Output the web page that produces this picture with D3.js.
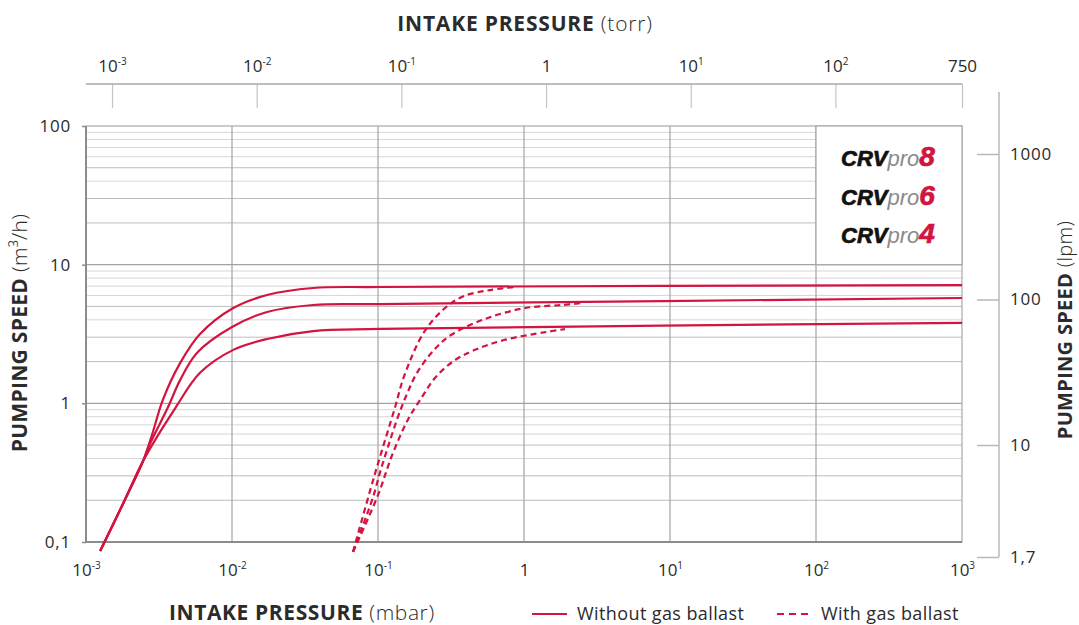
<!DOCTYPE html>
<html><head><meta charset="utf-8">
<script src="https://cdn.jsdelivr.net/npm/d3@7"></script>
<style>
body{margin:0;background:#fff}
text{font-family:"Open Sans","Noto Sans",sans-serif;fill:#2b2b2b}
</style></head><body>
<svg id="c" width="1079" height="625"></svg>
<script>
// ---------- data ----------
const mbarTicks = [1e-3,1e-2,1e-1,1,10,100,1000];
const mbarTickLabels = [["10","-3"],["10","-2"],["10","-1"],["1",""],["10","1"],["10","2"],["10","3"]];
const torrTicks = [1e-3,1e-2,1e-1,1,10,100,750];
const torrTickLabels = [["10","-3"],["10","-2"],["10","-1"],["1",""],["10","1"],["10","2"],["750",""]];
const speedTicks = [0.1,1,10,100];
const speedTickLabels = ["0,1","1","10","100"];
const lpmTicks = [1.7,10,100,1000];
const lpmTickLabels = ["1,7","10","100","1000"];
const modelNumbers = ["8","6","4"];

// [intake pressure mbar, pumping speed m3/h]
const crv8NoBallast = [[0.00125,0.086],[0.00179,0.188],[0.00246,0.384],[0.00283,0.591],[0.00336,1.06],[0.00441,1.95],[0.00604,3.16],[0.0102,4.87],[0.0174,6.04],[0.0359,6.79],[0.103,6.90],[1000,7.13]];
const crv6NoBallast = [[0.00125,0.086],[0.00179,0.188],[0.00246,0.384],[0.00274,0.509],[0.00365,0.94],[0.00441,1.47],[0.00575,2.31],[0.01,3.55],[0.0174,4.56],[0.0359,5.12],[0.103,5.20],[1000,5.75]];
const crv4NoBallast = [[0.00125,0.086],[0.00179,0.188],[0.00246,0.384],[0.00413,0.94],[0.00604,1.66],[0.0102,2.43],[0.0174,2.91],[0.0359,3.32],[0.103,3.44],[1000,3.80]];
const crv8Ballast = [[0.0675,0.085],[0.0939,0.294],[0.131,0.94],[0.151,1.57],[0.207,3.27],[0.288,4.87],[0.388,5.94],[0.585,6.56],[0.867,6.90]];
const crv6Ballast = [[0.0675,0.085],[0.0925,0.211],[0.103,0.315],[0.117,0.484],[0.137,0.80],[0.158,1.17],[0.185,1.66],[0.242,2.43],[0.316,3.11],[0.541,4.06],[1.02,4.87],[1.82,5.12],[2.49,5.29]];
const crv4Ballast = [[0.0675,0.085],[0.1,0.218],[0.125,0.424],[0.160,0.759],[0.200,1.11],[0.249,1.55],[0.337,2.05],[0.461,2.43],[0.729,2.86],[1.42,3.27],[1.91,3.43]];

// ---------- layout ----------
const RED = "#d2143f";
const svg = d3.select("#c");
const x = d3.scaleLog().domain([1e-3,1e3]).range([86,962]);
const y = d3.scaleLog().domain([0.1,100]).range([542,126]);
const xT = d3.scaleLog().domain([1e-3,750]).range([112,962]);
const yR = d3.scaleLog().domain([1.7,1000]).range([557,154]);

// grid
const g = svg.append("g");
const minorVals = [];
[0.1,1,10].forEach(d=>{for(let k=2;k<=9;k++) minorVals.push(d*k);});
g.selectAll("line.minor").data(minorVals).enter().append("line")
 .attr("x1",86).attr("x2",962).attr("y1",d=>y(d)).attr("y2",d=>y(d))
 .attr("stroke",d=>{const k=Math.round(d/Math.pow(10,Math.floor(Math.log10(d)+1e-9)));return (k===2||k===3||k===5)?"#bdbdbd":"#d6d6d6";})
 .attr("stroke-width",1);
g.selectAll("line.vmaj").data(mbarTicks.slice(1,-1)).enter().append("line")
 .attr("x1",d=>x(d)).attr("x2",d=>x(d)).attr("y1",126).attr("y2",542)
 .attr("stroke","#a3a3a3").attr("stroke-width",1.2);
g.selectAll("line.hmaj").data([1,10]).enter().append("line")
 .attr("x1",86).attr("x2",962).attr("y1",d=>y(d)).attr("y2",d=>y(d))
 .attr("stroke","#a3a3a3").attr("stroke-width",1.2);

// frame
svg.append("rect").attr("x",86).attr("y",126).attr("width",876).attr("height",416)
 .attr("fill","none").attr("stroke","#a8a8a8").attr("stroke-width",1.2);
svg.append("line").attr("x1",86).attr("x2",86).attr("y1",126).attr("y2",542).attr("stroke","#8c8c8c").attr("stroke-width",2);
svg.append("line").attr("x1",86).attr("x2",962).attr("y1",542).attr("y2",542).attr("stroke","#8c8c8c").attr("stroke-width",2);

// model box
svg.append("rect").attr("x",x(100)).attr("y",y(100)).attr("width",x(1000)-x(100)).attr("height",y(10)-y(100))
 .attr("fill","#fff").attr("stroke","#a8a8a8").attr("stroke-width",1.2);
const logo = svg.append("g");
modelNumbers.forEach((m,i)=>{
  const t = logo.append("text").attr("x",841).attr("y",166+i*38.5)
    .style("font-family","'Liberation Sans',Arial,sans-serif").style("font-style","italic");
  t.append("tspan").text("CRV").style("font-weight","bold").style("font-size","22px").style("fill","#111").style("stroke","#111").style("stroke-width","0.7px");
  t.append("tspan").text("pro").style("font-size","22px").style("fill","#8a8a8a");
  t.append("tspan").text(m).style("font-weight","bold").style("font-size","28px").style("fill",RED).style("stroke",RED).style("stroke-width","0.7px");
});

// left axis
const yAxis = d3.axisLeft(y).tickValues(speedTicks).tickSize(4).tickFormat((d,i)=>speedTickLabels[i]);
const ya = svg.append("g").attr("transform","translate(86,0)").call(yAxis);
ya.select(".domain").remove();
ya.selectAll("line").attr("stroke","#8c8c8c").attr("stroke-width",1.5);
ya.selectAll("text").attr("x",-15).style("font-size","17px").style("letter-spacing","0.8px").style("font-family","'Open Sans'").attr("fill","#2b2b2b");

// bottom axis (labels only)
const xAxis = d3.axisBottom(x).tickValues(mbarTicks).tickSize(0).tickFormat("");
const xa = svg.append("g").attr("transform","translate(0,542)").call(xAxis);
xa.select(".domain").remove();
xa.selectAll("text").each(function(d,i){
  const t=d3.select(this).attr("y",34).attr("dy",0).style("font-size","17px").style("font-family","'Open Sans'");
  t.append("tspan").text(mbarTickLabels[i][0]);
  if(mbarTickLabels[i][1]) t.append("tspan").text(mbarTickLabels[i][1]).attr("dy",-7).style("font-size","10px");
});

// top torr axis
const xtAxis = d3.axisTop(xT).tickValues(torrTicks).tickSize(-24).tickFormat("");
const xta = svg.append("g").attr("transform","translate(0,84)").call(xtAxis);
xta.select(".domain").remove();
svg.append("line").attr("x1",86).attr("x2",962).attr("y1",84).attr("y2",84).attr("stroke","#a8a8a8").attr("stroke-width",1.5);
xta.selectAll("line").attr("stroke","#c4c4c4").attr("stroke-width",1.2);
xta.selectAll("text").each(function(d,i){
  const t=d3.select(this).attr("y",-12).attr("dy",0).style("font-size","17px").style("font-family","'Open Sans'");
  t.append("tspan").text(torrTickLabels[i][0]);
  if(torrTickLabels[i][1]) t.append("tspan").text(torrTickLabels[i][1]).attr("dy",-7).style("font-size","10px");
});

// right lpm axis
const yrAxis = d3.axisRight(yR).tickValues(lpmTicks).tickSize(-22).tickFormat((d,i)=>lpmTickLabels[i]);
const yra = svg.append("g").attr("transform","translate(999,0)").call(yrAxis);
yra.select(".domain").remove();
svg.append("line").attr("x1",999).attr("x2",999).attr("y1",92).attr("y2",557).attr("stroke","#b8b8b8").attr("stroke-width",1.5);
yra.selectAll("line").attr("stroke","#b8b8b8").attr("stroke-width",1.5);
yra.selectAll("text").attr("x",11).style("font-size","17px").style("letter-spacing","0.8px").style("font-family","'Open Sans'").attr("fill","#2b2b2b");

// curves
const line = d3.line().x(d=>x(d[0])).y(d=>y(d[1])).curve(d3.curveCatmullRom.alpha(0.5));
[crv8NoBallast,crv6NoBallast,crv4NoBallast].forEach(s=>{
  svg.append("path").attr("d",line(s)).attr("fill","none").attr("stroke",RED).attr("stroke-width",2.2);
});
[crv8Ballast,crv6Ballast,crv4Ballast].forEach(s=>{
  svg.append("path").attr("d",line(s)).attr("fill","none").attr("stroke",RED).attr("stroke-width",2.2).attr("stroke-dasharray","6,4");
});

// titles
const tt = svg.append("text").attr("x",525).attr("y",31).attr("text-anchor","middle").style("font-size","21px").style("letter-spacing","0.8px");
tt.append("tspan").text("INTAKE PRESSURE").style("font-weight","bold");
tt.append("tspan").text(" (torr)").style("font-weight","300");

const bt = svg.append("text").attr("x",169).attr("y",620).style("font-size","21px").style("letter-spacing","0.6px");
bt.append("tspan").text("INTAKE PRESSURE").style("font-weight","bold");
bt.append("tspan").text(" (mbar)").style("font-weight","300");

const lt = svg.append("text").attr("transform","translate(27,333) rotate(-90)").attr("text-anchor","middle").style("font-size","21px").style("letter-spacing","0.3px");
lt.append("tspan").text("PUMPING SPEED").style("font-weight","bold");
lt.append("tspan").text(" (m³/h)").style("font-weight","300");

const rt = svg.append("text").attr("transform","translate(1072,330) rotate(-90)").attr("text-anchor","middle").style("font-size","20px").style("letter-spacing","0.3px");
rt.append("tspan").text("PUMPING SPEED").style("font-weight","bold");
rt.append("tspan").text(" (lpm)").style("font-weight","300");

// legend
svg.append("line").attr("x1",532).attr("x2",567).attr("y1",614).attr("y2",614).attr("stroke",RED).attr("stroke-width",2.2);
svg.append("text").attr("x",577).attr("y",620).text("Without gas ballast").style("font-size","18px").style("letter-spacing","0.4px");
svg.append("line").attr("x1",777).attr("x2",812).attr("y1",614).attr("y2",614).attr("stroke",RED).attr("stroke-width",2.2).attr("stroke-dasharray","7,5");
svg.append("text").attr("x",821).attr("y",620).text("With gas ballast").style("font-size","18px").style("letter-spacing","0.4px");
</script>
</body></html>
